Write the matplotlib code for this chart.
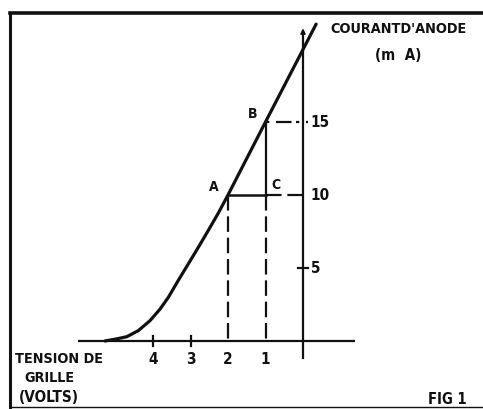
import matplotlib
matplotlib.use("Agg")
import matplotlib.pyplot as plt
from matplotlib.lines import Line2D

# anode current (mA) vs grid voltage (V)
grid_v = [-5.28, -5.01, -4.70, -4.39, -4.08, -3.81, -3.59, -3.33, -3.06,
          -2.79, -2.53, -2.26, -2.0, -1.0, 0.35]
anode_ma = [0.0, 0.12, 0.29, 0.71, 1.39, 2.19, 2.99, 4.13, 5.27,
            6.42, 7.55, 8.75, 10.0, 15.0, 21.7]

# working points
pt_a = (-2.0, 10.0)
pt_b = (-1.0, 15.0)
pt_c = (-1.0, 10.0)

x_ticks = [-4, -3, -2, -1]
x_labels = ["4", "3", "2", "1"]
y_ticks = [5, 10, 15]
y_labels = ["5", "10", "15"]

ink = "#111111"
font = dict(family="DejaVu Sans", stretch="condensed", weight="bold", color=ink)

fig = plt.figure(figsize=(4.83, 4.10), dpi=100)
ax = fig.add_axes([0, 0, 1, 1])
ax.set_xlim(-8.08, 4.8)
ax.set_ylim(-4.66, 23.42)
ax.axis("off")

# page frame (left, top, bottom)
for xs, ys, lw in [([0.021, 0.021], [0.0, 0.967], 2.2),
                   ([0.021, 1.0], [0.967, 0.967], 2.6),
                   ([0.021, 1.0], [0.005, 0.005], 1.0)]:
    ax.add_line(Line2D(xs, ys, transform=ax.transAxes, color=ink, lw=lw))

# axes
ax.plot([-6.0, 1.39], [0, 0], color=ink, lw=1.6, solid_capstyle="butt")
ax.plot([0, 0], [-1.2, 21.2], color=ink, lw=1.6)
ax.annotate("", xy=(0, 21.6), xytext=(0, 20.8),
            arrowprops=dict(arrowstyle="-|>", color=ink, lw=1.2,
                            mutation_scale=7))

# tick marks
for v in x_ticks[:2]:
    ax.plot([v, v], [-0.35, 0.35], color=ink, lw=1.6)
ax.plot([-0.13, 0.13], [5, 5], color=ink, lw=1.6)

dash = (0, (7, 2.6))
# construction lines
ax.plot([pt_a[0], pt_a[0]], [pt_a[1], 0], color=ink, lw=1.6, linestyle=dash)
ax.plot([pt_c[0], pt_c[0]], [pt_c[1], 0], color=ink, lw=1.6, linestyle=dash)
ax.plot([pt_b[0], pt_c[0]], [pt_b[1], pt_c[1]], color=ink, lw=1.6)
ax.plot([pt_a[0], pt_c[0]], [pt_a[1], pt_c[1]], color=ink, lw=1.8)
ax.plot([pt_c[0], 0.13], [pt_c[1], pt_c[1]], color=ink, lw=1.6, linestyle=dash)
ax.plot([pt_b[0], 0.13], [pt_b[1], pt_b[1]], color=ink, lw=1.6,
        linestyle=(0, (1.5, 3, 7, 2)))

# characteristic curve
ax.plot(grid_v, anode_ma, color=ink, lw=2.3, solid_capstyle="round",
        solid_joinstyle="round")

# tick labels
for v, lab in zip(x_ticks, x_labels):
    ax.text(v, -0.7, lab, ha="center", va="top", fontsize=11, **font)
for i, lab in zip(y_ticks, y_labels):
    ax.text(0.2, i, lab, ha="left", va="center", fontsize=11, **font)

# point names
ax.text(pt_a[0] - 0.25, pt_a[1] + 0.15, "A", ha="right", va="bottom", fontsize=10, **font)
ax.text(pt_b[0] - 0.22, pt_b[1] + 0.15, "B", ha="right", va="bottom", fontsize=10, **font)
ax.text(pt_c[0] + 0.15, pt_c[1] + 0.3, "C", ha="left", va="bottom", fontsize=10, **font)

# axis titles
ax.text(2.55, 21.4, "COURANTD'ANODE", ha="center", va="center", fontsize=10.4, **font)
ax.text(2.55, 19.6, "(m  A)", ha="center", va="center", fontsize=10.8, **font)
ax.text(-7.68, -1.2, "TENSION DE", ha="left", va="center", fontsize=10.4, **font)
ax.text(-6.75, -2.47, "GRILLE", ha="center", va="center", fontsize=10.4, **font)
ax.text(-6.78, -3.77, "(VOLTS)", ha="center", va="center", fontsize=11, **font)
ax.text(4.35, -3.95, "FIG 1", ha="right", va="center", fontsize=10.5, **font)

fig.savefig("out.png", dpi=100)
